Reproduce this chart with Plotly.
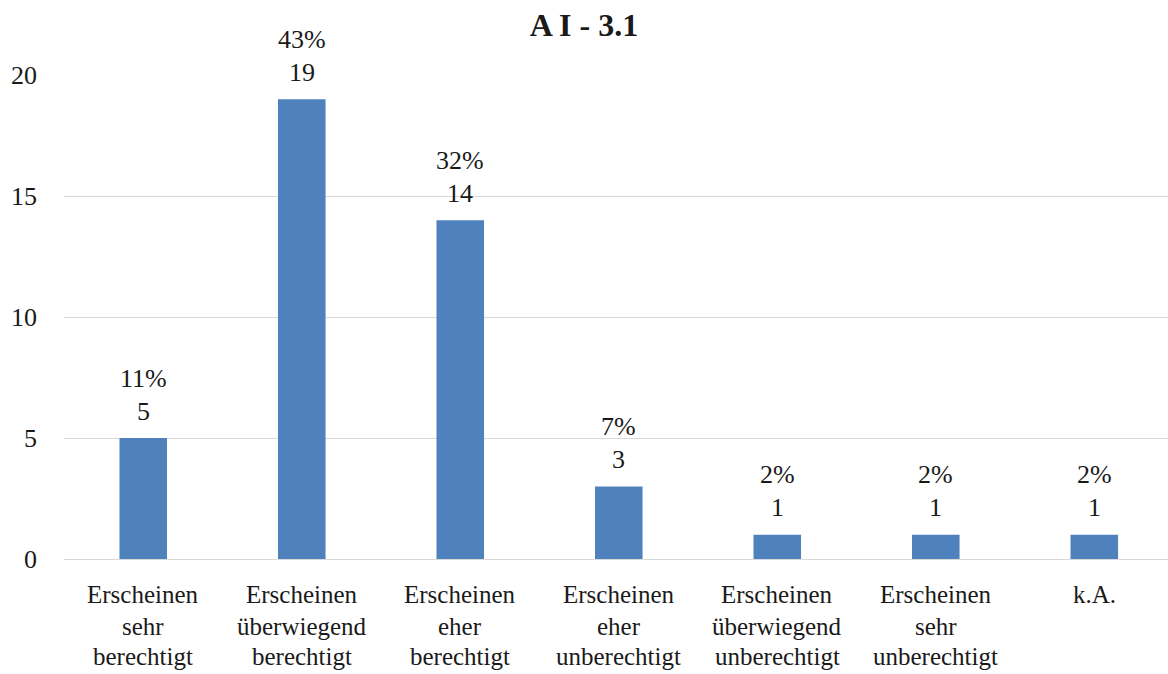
import plotly.graph_objects as go

# Survey answers for item A I - 3.1
categories = [
    "Erscheinen<br>sehr<br>berechtigt",
    "Erscheinen<br>überwiegend<br>berechtigt",
    "Erscheinen<br>eher<br>berechtigt",
    "Erscheinen<br>eher<br>unberechtigt",
    "Erscheinen<br>überwiegend<br>unberechtigt",
    "Erscheinen<br>sehr<br>unberechtigt",
    "k.A.",
]
counts = [5, 19, 14, 3, 1, 1, 1]
percents = [11, 43, 32, 7, 2, 2, 2]
y_ticks = [0, 5, 10, 15, 20]

FONT = "Liberation Serif, Times New Roman, serif"
TEXT = "#1a1a1a"
BAR = "#4f81bd"
SIZE = 26
LINE_SHIFTS = [-35, -67, -97]

fig = go.Figure()
fig.add_trace(go.Bar(
    x=list(range(len(categories))),
    y=counts,
    width=0.30,
    marker=dict(color=BAR, line=dict(width=0)),
    hoverinfo="skip",
))

annotations = []
for i, (c, p) in enumerate(zip(counts, percents)):
    # value and share above each bar
    annotations.append(dict(x=i, y=c, xref="x", yref="y", text=str(c),
                            showarrow=False, yanchor="middle", yshift=27,
                            font=dict(family=FONT, size=SIZE, color=TEXT)))
    annotations.append(dict(x=i, y=c, xref="x", yref="y", text=f"{p}%",
                            showarrow=False, yanchor="middle", yshift=60,
                            font=dict(family=FONT, size=SIZE, color=TEXT)))
    # category label lines under the axis
    for j, line in enumerate(categories[i].split("<br>")):
        annotations.append(dict(x=i, y=0, xref="x", yref="y", text=line,
                                showarrow=False, yanchor="middle",
                                yshift=LINE_SHIFTS[j],
                                font=dict(family=FONT, size=25, color=TEXT)))

fig.update_layout(
    width=1168, height=674,
    margin=dict(l=64, r=0, t=75, b=115),
    paper_bgcolor="white", plot_bgcolor="white",
    showlegend=False,
    title=dict(text="<b>A I - 3.1</b>", x=0.5, xanchor="center",
               y=1 - 25 / 674, yanchor="middle",
               font=dict(family=FONT, size=32, color=TEXT)),
    font=dict(family=FONT, size=SIZE, color=TEXT),
    annotations=annotations,
    xaxis=dict(range=[-0.5, 6.465], showticklabels=False, showgrid=False,
               zeroline=False, showline=False, ticks=""),
    yaxis=dict(range=[0, 20], tickvals=y_ticks, showgrid=True,
               gridcolor="#d9d9d9", gridwidth=1.3, zeroline=True,
               zerolinecolor="#d9d9d9", zerolinewidth=1.3, showline=False,
               ticks="", ticklabelstandoff=26,
               tickfont=dict(family=FONT, size=SIZE, color=TEXT)),
)

fig.write_html("out.html")
